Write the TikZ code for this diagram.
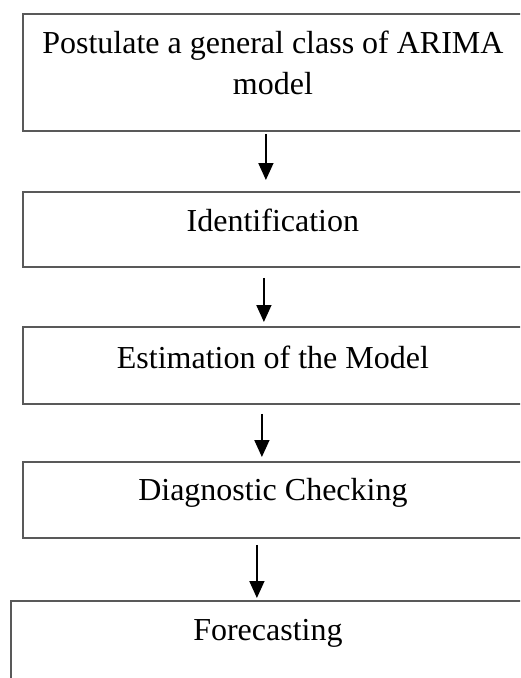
\documentclass[tikz,border=0pt]{standalone}
\usepackage{fontspec}
\setmainfont{Liberation Serif}
\usetikzlibrary{arrows.meta}
\tikzset{
  stage/.style={draw=black!65, line width=1.8pt, minimum width=500pt, inner sep=0pt, anchor=north west},
  stagetext/.style={anchor=base, align=center, inner sep=0pt, font=\fontsize{32}{41}\selectfont},
  flow/.style={line width=1.6pt, -{Triangle[length=17pt,width=15pt]}}
}
\begin{document}
\begin{tikzpicture}[x=1pt,y=-1pt]
\useasboundingbox (0,0) rectangle (520,678);
\clip (0,0) rectangle (520,678);
% boxes
\node[stage, minimum height=117pt] (postulate) at (22,13) {};
\node[stage, minimum height=75pt] (ident) at (22,191) {};
\node[stage, minimum height=77pt] (estim) at (22,326) {};
\node[stage, minimum height=76pt] (diag) at (22,461) {};
\node[stage, minimum width=514pt, minimum height=100pt] (forecast) at (10,600) {};
% labels (base of a two-line node is its last line)
\node[stagetext] (postulatetext) at ([yshift=-81pt]postulate.north) {Postulate a general class of ARIMA\\model};
\node[stagetext] (identtext) at ([yshift=-40pt]ident.north) {Identification};
\node[stagetext] (estimtext) at ([yshift=-42pt]estim.north) {Estimation of the Model};
\node[stagetext] (diagtext) at ([yshift=-39pt]diag.north) {Diagnostic Checking};
\node[stagetext] (forecasttext) at ([yshift=-40pt]forecast.north) {Forecasting};
% arrows
\draw[flow, shorten <=2pt, shorten >=11pt] ([xshift=-7pt]postulate.south) -- ([xshift=-7pt]ident.north);
\draw[flow, shorten <=10pt, shorten >=4pt] ([xshift=-9pt]ident.south) -- ([xshift=-9pt]estim.north);
\draw[flow, shorten <=9pt, shorten >=4pt] ([xshift=-11pt]estim.south) -- ([xshift=-11pt]diag.north);
\draw[flow, shorten <=6pt, shorten >=2pt] ([xshift=-16pt]diag.south) -- ([xshift=-16pt]diag.south |- forecast.north);
\end{tikzpicture}
\end{document}
